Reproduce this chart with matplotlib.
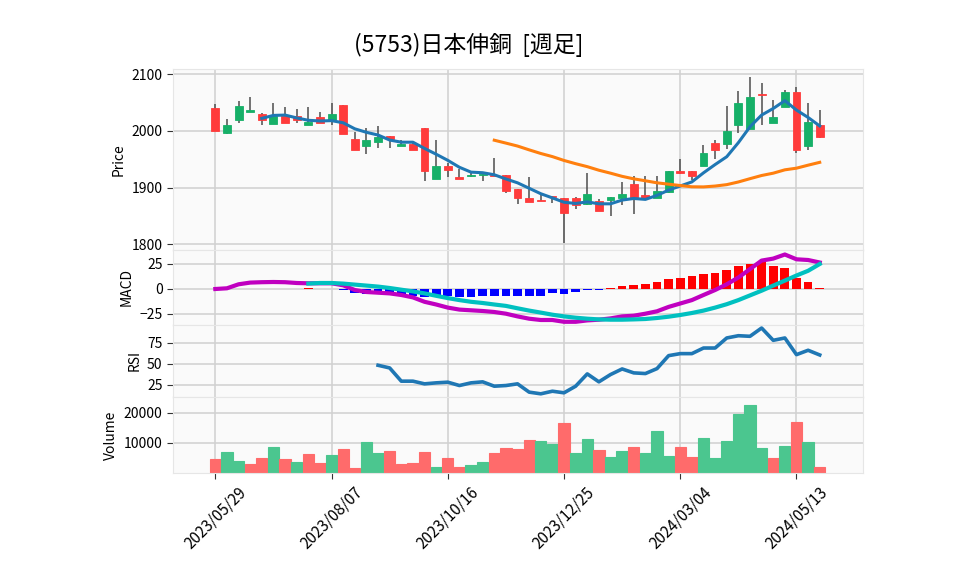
import numpy as np
import pandas as pd
import matplotlib.pyplot as plt

plt.rcParams['font.family'] = ['Noto Sans CJK JP', 'DejaVu Sans']

# 週足データ (読み取り値)
dates = pd.date_range('2023-05-29', periods=53, freq='7D')

opens = [2040, 1996, 2019, 2033, 2030, 2012, 2027, 2027, 2010, 2024,
         2019, 2046, 1986, 1973, 1980, 1991, 1973, 1976, 2005, 1916,
         1938, 1919, 1920, 1922, 1923, 1922, 1897, 1881, 1878, 1885,
         1882, 1882, 1871, 1877, 1878, 1881, 1907, 1887, 1882, 1892,
         1930, 1930, 1938, 1979, 1976, 2010, 2003, 2065, 2014, 2042,
         2068, 1973, 2010]
highs = [2048, 2021, 2053, 2060, 2031, 2049, 2042, 2039, 2042, 2033,
         2049, 2046, 1998, 2005, 2008, 1991, 1984, 1979, 2005, 1983,
         1943, 1932, 1925, 1925, 1953, 1922, 1897, 1919, 1888, 1885,
         1882, 1884, 1926, 1879, 1883, 1910, 1920, 1920, 1920, 1930,
         1951, 1930, 1975, 1983, 2043, 2070, 2095, 2085, 2055, 2072,
         2077, 2049, 2037]
lows = [2000, 1995, 2014, 2033, 2010, 2012, 2013, 2014, 2010, 2013,
        2011, 1995, 1966, 1960, 1970, 1970, 1973, 1966, 1912, 1915,
        1919, 1915, 1918, 1912, 1920, 1891, 1871, 1875, 1876, 1872,
        1803, 1863, 1870, 1859, 1850, 1869, 1853, 1881, 1882, 1891,
        1924, 1913, 1938, 1950, 1968, 1996, 2003, 2011, 2014, 2042,
        1961, 1967, 1988]
closes = [2000, 2011, 2044, 2036, 2019, 2026, 2014, 2019, 2015, 2013,
          2029, 1995, 1966, 1984, 1989, 1985, 1976, 1966, 1929, 1938,
          1931, 1915, 1923, 1924.5, 1920, 1894, 1881, 1875, 1876, 1883,
          1856, 1870, 1889, 1859, 1883, 1889, 1881, 1882.5, 1894, 1930,
          1925, 1920, 1961, 1967, 1999, 2049, 2060, 2064, 2025, 2068,
          1966, 2015, 1989]
volumes = [4780, 7100, 4110, 3110, 5110, 8780, 4780, 3780, 6330, 3330,
           6000, 8000, 1670, 10330, 6670, 7330, 3000, 3330, 7000, 2000,
           5000, 2000, 2670, 3670, 6670, 8330, 8000, 11000, 10670, 9670,
           16670, 6670, 11440, 7670, 5440, 7330, 8670, 6670, 14110, 5780,
           8670, 5330, 11670, 5110, 10670, 19780, 22670, 8440, 5000, 9000,
           17000, 10330, 2000]

nan = np.nan
ma5 = [nan, nan, nan, nan, 2022.0, 2027.2, 2027.8, 2022.8, 2018.6, 2017.4,
       2018.0, 2014.2, 2003.6, 1997.4, 1992.6, 1983.8, 1980.0, 1980.0, 1969.0, 1958.8,
       1948.0, 1935.8, 1927.2, 1926.2, 1922.6, 1915.2, 1908.4, 1898.8, 1889.2, 1881.8,
       1874.2, 1872.0, 1874.8, 1871.4, 1871.4, 1878.0, 1880.8, 1879.2, 1886.2, 1895.6,
       1902.8, 1910.0, 1926.0, 1940.6, 1954.4, 1979.2, 2007.2, 2027.8, 2039.4, 2053.2,
       2036.6, 2023.6, 2008.6]
ma25 = [nan] * 24 + [1983.5, 1978.4, 1973.2, 1966.5, 1960.1, 1954.6,
                     1947.8, 1942.1, 1936.9, 1930.6, 1925.4, 1919.8, 1915.4, 1912.0, 1908.4, 1906.0,
                     1903.6, 1901.4, 1901.2, 1902.7, 1905.2, 1909.9, 1915.7, 1921.3, 1925.4, 1931.3,
                     1934.2, 1939.5, 1944.5]

macd = [0, 0.7, 4.7, 6.4, 6.8, 7.0, 6.8, 6.0, 5.7, 5.7,
        5.7, 3.7, -1.0, -3.0, -3.7, -4.4, -6.0, -8.4, -12.8, -15.5,
        -18.6, -20.6, -21.3, -22.0, -23.0, -24.7, -27.4, -29.7, -31.0, -31.0,
        -32.8, -32.8, -31.4, -30.7, -29.4, -27.4, -26.7, -24.7, -22.3, -17.9,
        -14.5, -11.1, -6.0, -1.0, 4.7, 11.5, 19.9, 28.4, 30.4, 34.5,
        29.7, 29.0, 26.5]
signal = [nan] * 8 + [5.4, 6.0, 6.0, 5.4, 4.4, 3.4, 2.4, 1.0, -0.7, -2.4,
                      -4.4, -6.8, -9.1, -11.1, -12.8, -14.0, -15.5, -16.9, -19.3, -21.6,
                      -23.6, -25.7, -27.4, -28.7, -29.7, -30.4, -30.7, -30.7, -30.4, -30.0,
                      -29.0, -27.7, -26.0, -24.0, -21.6, -18.6, -15.2, -11.1, -6.4, -1.7,
                      3.4, 8.4, 13.5, 18.2, 25.0]
hist = [nan] * 8 + [0.5, 0.1, -0.2, -1.4, -4.4, -5.0, -5.0, -5.7, -6.4, -6.8,
                    -7.8, -7.8, -7.4, -7.8, -7.8, -7.4, -6.6, -6.6, -6.6, -6.6,
                    -6.6, -4.4, -5.0, -3.4, -1.5, -0.7, 0.8, 3.0, 4.4, 5.4,
                    7.0, 10.0, 11.0, 12.5, 15.2, 16.2, 19.3, 23.3, 25.0, 26.7,
                    22.6, 21.3, 11.1, 7.0, 1.0]
rsi = [nan] * 14 + [48.4, 45.2, 29.4, 29.4, 26.2, 27.4,
                    28.2, 24.2, 27.4, 28.6, 23.4, 24.2, 26.2, 16.3, 14.3, 17.4,
                    15.5, 23.4, 38.1, 28.6, 37.3, 44.0, 39.3, 38.5, 44.4, 59.9,
                    62.3, 62.3, 69.0, 69.0, 81.0, 83.7, 83.0, 92.9, 78.2, 81.0,
                    61.1, 66.3, 60.7]

up_c, down_c = '#16b068', '#ff3b3b'
vup_c, vdown_c = '#4bc68f', '#ff6b6b'

x = np.arange(len(closes))
o = np.array(opens, float)
c = np.array(closes, float)

fig = plt.figure(figsize=(9.58, 5.75), dpi=100)
gs = fig.add_gridspec(4, 1, height_ratios=[181, 75, 72, 76], hspace=0,
                      left=0.1806, right=0.9008, top=0.88, bottom=0.1774)
ax1 = fig.add_subplot(gs[0])
ax2 = fig.add_subplot(gs[1], sharex=ax1)
ax3 = fig.add_subplot(gs[2], sharex=ax1)
ax4 = fig.add_subplot(gs[3], sharex=ax1)

# ローソク足
ax1.vlines(x, lows, highs, color='#4d4d4d', lw=1.1, zorder=2)
body_col = [up_c if cc >= oo else down_c for oo, cc in zip(o, c)]
body_h = np.maximum(np.abs(c - o), 0.8)
ax1.bar(x, body_h, bottom=np.minimum(o, c), width=0.68, color=body_col,
        edgecolor=body_col, lw=0.6, zorder=3)
ax1.plot(x, ma5, color='#1f77b4', lw=2.2, zorder=4)
ax1.plot(x, ma25, color='#ff7f0e', lw=2.2, zorder=4)
ax1.set_ylim(1790, 2109)
ax1.set_yticks([1800, 1900, 2000, 2100])
ax1.set_ylabel('Price')

# MACD
h = np.array(hist)
ax2.bar(x, h, width=0.75, color=['#ff0000' if v >= 0 else '#0000ff' for v in np.nan_to_num(h)], zorder=2)
ax2.plot(x, macd, color='#c000c0', lw=3, zorder=3)
ax2.plot(x, signal, color='#00c0c0', lw=3, zorder=4)
ax2.set_ylim(-36, 39)
ax2.set_yticks([-25, 0, 25])
ax2.set_ylabel('MACD')

# RSI
ax3.plot(x, rsi, color='#1f77b4', lw=2.6)
ax3.set_ylim(10.5, 96.5)
ax3.set_yticks([25, 50, 75])
ax3.set_ylabel('RSI')

# 出来高 (前週終値比で色分け)
vcol = [vdown_c if c[0] < o[0] else vup_c]
vcol += [vup_c if c[i] >= c[i - 1] else vdown_c for i in range(1, len(c))]
ax4.bar(x, volumes, width=0.97, color=vcol, edgecolor=vcol, lw=0.8, zorder=2)
ax4.set_ylim(0, 25300)
ax4.set_yticks([10000, 20000])
ax4.set_ylabel('Volume')

ticks = x[::10]
ax4.set_xticks(ticks)
ax4.set_xticklabels([dates[i].strftime('%Y/%m/%d') for i in ticks], rotation=45, ha='center')
ax4.set_xlim(-3.64, 55.72)

for ax in (ax1, ax2, ax3, ax4):
    ax.set_facecolor('#fafafa')
    ax.grid(True, color='#d0d0d0', lw=1.1)
    ax.set_axisbelow(True)
    for s in ax.spines.values():
        s.set_color('#e6e6e6')
    ax.tick_params(axis='y', labelsize=10, length=4, color='#333333')
    ax.yaxis.label.set_size(10)
for ax in (ax1, ax2, ax3):
    ax.tick_params(axis='x', length=0, labelbottom=False)
ax4.tick_params(axis='x', labelsize=11, length=4, color='#333333')

fig.suptitle('(5753)日本伸銅  [週足]', fontsize=16.5, x=0.489, y=0.943)
fig.savefig('out.png', dpi=100)
